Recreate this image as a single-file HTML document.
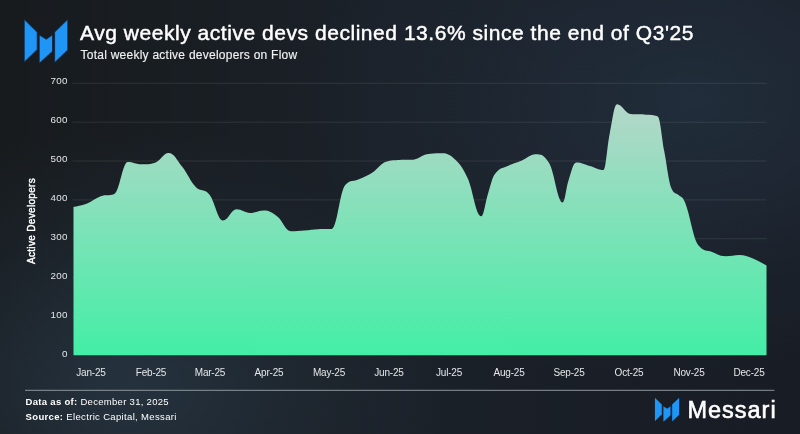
<!DOCTYPE html>
<html><head><meta charset="utf-8">
<style>
html,body{margin:0;padding:0;}
body{width:800px;height:434px;overflow:hidden;position:relative;font-family:"Liberation Sans",sans-serif;
background:
 radial-gradient(ellipse 320px 260px at 130px 385px, rgba(37,50,62,1) 0%, rgba(37,50,62,0.62) 35%, rgba(37,50,62,0.25) 65%, rgba(37,50,62,0) 100%),
 radial-gradient(ellipse 400px 290px at 690px 100px, rgba(33,45,59,1) 0%, rgba(33,45,59,0.62) 35%, rgba(33,45,59,0.25) 65%, rgba(33,45,59,0) 100%),
 linear-gradient(to right,#171b1e 0%,#1b2129 50%,#181c24 100%);
}
.t{position:absolute;white-space:nowrap;color:#fff;line-height:1;}
#title{left:80px;top:22px;font-size:21px;letter-spacing:0.54px;-webkit-text-stroke:0.45px #fff;}
#sub{left:80.5px;top:48.7px;font-size:12px;letter-spacing:0.25px;color:#f0f1f2;-webkit-text-stroke:0.15px #f0f1f2;}
.yl{position:absolute;width:40px;left:27.6px;text-align:right;font-size:9.8px;letter-spacing:0.25px;color:#e4e6e8;line-height:1;}
.xl{position:absolute;top:368.1px;width:60px;text-align:center;font-size:10px;letter-spacing:-0.2px;color:#e4e6e8;line-height:1;}
#ytitle{position:absolute;left:32.2px;top:220.8px;font-size:10px;font-weight:normal;-webkit-text-stroke:0.4px #fff;letter-spacing:0.33px;color:#fff;white-space:nowrap;line-height:1;transform:translate(-50%,-50%) rotate(-90deg);}
#f1{left:25.6px;top:396.9px;font-size:9.5px;letter-spacing:0.3px;}
#f2{left:25.6px;top:412.4px;font-size:9.5px;letter-spacing:0.34px;}
#brand{left:687.4px;top:399px;font-size:23.5px;letter-spacing:1.0px;-webkit-text-stroke:0.6px #fff;}
svg{position:absolute;left:0;top:0;}
#txt{position:absolute;left:0;top:0;width:800px;height:434px;will-change:transform;}
</style></head><body>
<svg width="800" height="434" viewBox="0 0 800 434">
<defs>
<linearGradient id="g" gradientUnits="userSpaceOnUse" x1="0" y1="83" x2="0" y2="355.3">
<stop offset="0" stop-color="rgb(190,213,204)"/>
<stop offset="1" stop-color="rgb(67,238,166)"/>
</linearGradient>
</defs>
<g stroke="#ffffff" stroke-width="1" opacity="0.085">
<line x1="72.5" x2="766.5" y1="83.3" y2="83.3"/>
<line x1="72.5" x2="766.5" y1="122.2" y2="122.2"/>
<line x1="72.5" x2="766.5" y1="161.0" y2="161.0"/>
<line x1="72.5" x2="766.5" y1="199.9" y2="199.9"/>
<line x1="72.5" x2="766.5" y1="238.7" y2="238.7"/>
<line x1="72.5" x2="766.5" y1="277.6" y2="277.6"/>
<line x1="72.5" x2="766.5" y1="316.5" y2="316.5"/>
</g>
<path fill="url(#g)" d="M73.50,207.00C73.50,207.00 81.65,205.76 87.09,203.60C92.52,201.44 95.24,198.12 100.68,196.20C106.11,194.28 108.83,196.20 114.26,194.00C119.70,191.80 122.42,162.00 127.85,162.00C133.29,162.00 136.01,164.30 141.44,164.30C146.88,164.30 149.59,164.30 155.03,162.70C160.46,161.10 163.18,153.00 168.62,153.00C174.05,153.00 176.77,160.00 182.21,166.80C187.64,173.60 190.36,181.46 195.79,187.00C201.23,192.54 203.95,187.80 209.38,194.50C214.82,201.20 217.54,220.50 222.97,220.50C228.41,220.50 231.12,209.30 236.56,209.30C241.99,209.30 244.71,213.00 250.15,213.00C255.58,213.00 258.30,210.50 263.74,210.50C269.17,210.50 271.89,212.34 277.32,216.50C282.76,220.66 285.48,231.30 290.91,231.30C296.35,231.30 299.06,230.92 304.50,230.50C309.94,230.08 312.65,229.40 318.09,229.20C323.52,229.00 326.24,229.20 331.68,229.00C337.11,228.80 339.83,190.70 345.26,185.00C350.70,179.30 353.42,181.80 358.85,179.30C364.29,176.80 367.01,176.02 372.44,172.50C377.88,168.98 380.59,163.40 386.03,161.70C391.46,160.00 394.18,160.30 399.62,160.00C405.05,159.70 407.77,160.00 413.21,159.70C418.64,159.40 421.36,155.30 426.79,154.30C432.23,153.30 434.95,153.30 440.38,153.30C445.82,153.30 448.54,153.56 453.97,158.50C459.41,163.44 462.12,166.44 467.56,178.00C472.99,189.56 475.71,216.30 481.15,216.30C483.97,216.30 485.38,201.72 488.20,193.00C490.81,184.92 492.12,177.83 494.74,174.30C500.17,166.95 502.89,168.56 508.32,165.80C513.76,163.04 516.48,162.82 521.91,160.50C527.35,158.18 530.06,154.20 535.50,154.20C540.94,154.20 543.65,154.20 549.09,163.00C554.52,171.80 557.24,202.50 562.68,202.50C565.01,202.50 566.17,187.36 568.50,180.50C571.61,171.36 573.16,162.50 576.26,162.50C581.70,162.50 584.42,164.50 589.85,166.00C595.29,167.50 598.01,170.00 603.44,170.00C605.90,170.00 607.14,146.12 609.60,134.20C612.57,119.82 614.06,104.25 617.03,104.25C622.46,104.25 625.18,113.50 630.62,114.00C636.05,114.50 638.77,114.00 644.21,114.50C649.64,115.00 652.36,114.50 657.79,116.50C660.40,118.50 661.70,137.75 664.30,151.50C667.13,166.47 668.55,181.50 671.38,188.30C674.23,195.10 675.65,192.17 678.50,195.10C681.09,197.77 682.38,195.80 684.97,202.30C690.41,215.96 693.12,239.00 698.56,245.50C703.99,252.00 706.71,249.84 712.15,252.00C717.58,254.16 720.30,256.30 725.74,256.30C731.17,256.30 733.89,255.00 739.32,255.00C744.76,255.00 747.48,256.40 752.91,258.50C758.35,260.60 766.50,265.50 766.50,265.50L766.5,355.3L73.5,355.3Z"/>
<line x1="25" x2="774.4" y1="390.3" y2="390.3" stroke="#8d959c" stroke-width="1"/>
<g fill="#1f96f5" stroke="#0e3f6e" stroke-width="1.2" paint-order="stroke" stroke-linejoin="miter">
<polygon points="24.8,20.5 36.7,32.3 36.7,49.5 24.8,61.1"/>
<polygon points="39.8,35.7 46.3,39.8 52,35.7 52,51.3 39.8,62.2"/>
<polygon points="55.1,32.3 67.2,20.5 67.2,50.1 55.1,61.6"/>
</g>
<g fill="#1f96f5" stroke="#0e3f6e" stroke-width="1.2" paint-order="stroke" transform="translate(655,397.9) scale(0.567)">
<polygon points="0,0 11.9,11.8 11.9,29 0,40.6"/>
<polygon points="15,15.2 21.5,19.3 27.2,15.2 27.2,30.8 15,41.7"/>
<polygon points="30.3,11.8 42.4,0 42.4,29.6 30.3,41.1"/>
</g>
</svg>
<div id="txt">
<div class="t" id="title">Avg weekly active devs declined 13.6% since the end of Q3'25</div>
<div class="t" id="sub">Total weekly active developers on Flow</div>
<div class="yl" style="top:75.8px">700</div>
<div class="yl" style="top:114.8px">600</div>
<div class="yl" style="top:153.8px">500</div>
<div class="yl" style="top:192.8px">400</div>
<div class="yl" style="top:231.8px">300</div>
<div class="yl" style="top:270.8px">200</div>
<div class="yl" style="top:309.7px">100</div>
<div class="yl" style="top:348.7px">0</div>
<div id="ytitle">Active Developers</div>
<div class="xl" style="left:61px">Jan-25</div>
<div class="xl" style="left:121px">Feb-25</div>
<div class="xl" style="left:180px">Mar-25</div>
<div class="xl" style="left:239px">Apr-25</div>
<div class="xl" style="left:299px">May-25</div>
<div class="xl" style="left:359px">Jun-25</div>
<div class="xl" style="left:419px">Jul-25</div>
<div class="xl" style="left:479px">Aug-25</div>
<div class="xl" style="left:539px">Sep-25</div>
<div class="xl" style="left:599px">Oct-25</div>
<div class="xl" style="left:659px">Nov-25</div>
<div class="xl" style="left:719px">Dec-25</div>
<div class="t" id="f1"><b>Data as of:</b> December 31, 2025</div>
<div class="t" id="f2"><b>Source:</b> Electric Capital, Messari</div>
<div class="t" id="brand">Messari</div>
</div>
</body></html>
